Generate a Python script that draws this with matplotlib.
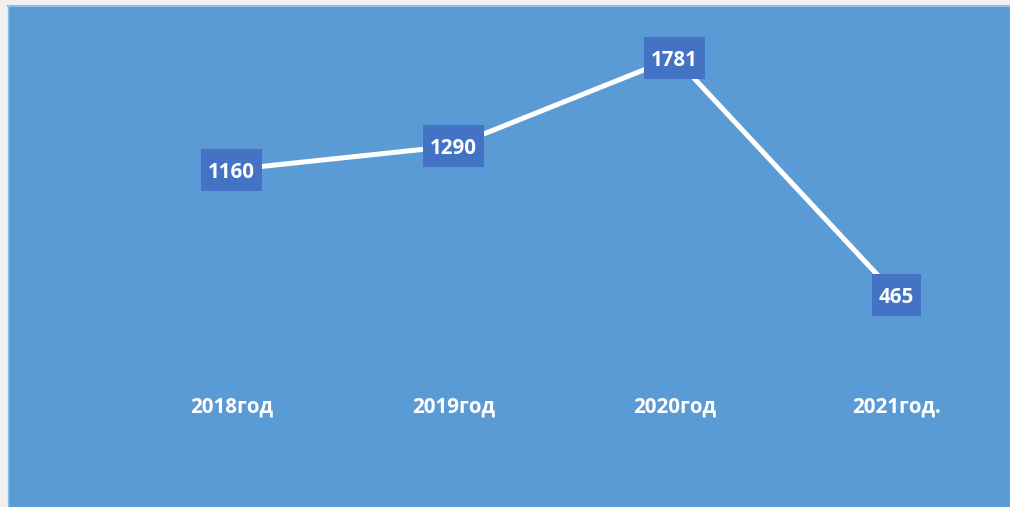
import matplotlib
matplotlib.use("Agg")
import matplotlib.pyplot as plt
from matplotlib.patches import Rectangle
from matplotlib.transforms import ScaledTranslation

categories = ["2018год", "2019год", "2020год", "2021год."]
values = [1160, 1290, 1781, 465]

W, H = 1010, 507
fig = plt.figure(figsize=(W / 100, H / 100), dpi=100)
fig.patch.set_facecolor("#F0F0F0")

panel_color = "#5B9BD5"
box_color = "#4472C4"
font = "Open Sans"

# blue panel behind the chart
left_px, top_px = 8, 6
fig.add_artist(Rectangle((left_px / W, 0), 1 - left_px / W, 1 - top_px / H,
                         transform=fig.transFigure, facecolor=panel_color,
                         edgecolor="none", zorder=-5))
fig.add_artist(plt.Line2D([left_px / W, 1], [1 - top_px / H, 1 - top_px / H],
                          transform=fig.transFigure, color="#8EC0EE", lw=1.5,
                          zorder=-4))
fig.add_artist(plt.Line2D([left_px / W, left_px / W], [0, 1 - top_px / H],
                          transform=fig.transFigure, color="#8EC0EE", lw=1.0,
                          zorder=-4))

ax = fig.add_axes([121 / W, (H - 379) / H, (1007 - 121) / W, (379 - 18) / H])
ax.set_facecolor("none")
ax.set_xlim(-0.5, len(categories) - 0.5)
ax.set_ylim(0, 2000)

x = list(range(len(categories)))
ax.plot(x, values, color="white", lw=3.6, solid_capstyle="butt", zorder=2)

# value labels on filled boxes centred on each point
renderer = fig.canvas.get_renderer()
pad_x, box_h = 0.07, 0.42  # inches
for xi, v in zip(x, values):
    t = ax.text(xi, v, str(v), ha="center", va="center_baseline", color="white",
                fontsize=14.8, fontweight="bold", family=font, zorder=4)
    text_w = t.get_window_extent(renderer).width / fig.dpi
    box_w = text_w + 2 * pad_x
    trans = fig.dpi_scale_trans + ScaledTranslation(xi, v, ax.transData)
    ax.add_artist(Rectangle((-box_w / 2, -box_h / 2), box_w, box_h,
                            transform=trans, facecolor=box_color,
                            edgecolor="none", zorder=3))

ax.set_xticks(x)
ax.set_xticklabels(categories, color="white", fontsize=14.8, fontweight="bold",
                   family=font)
ax.tick_params(axis="x", length=0, pad=13)
ax.set_yticks([])
for s in ax.spines.values():
    s.set_visible(False)

fig.savefig("out.png", dpi=100, facecolor=fig.get_facecolor())
